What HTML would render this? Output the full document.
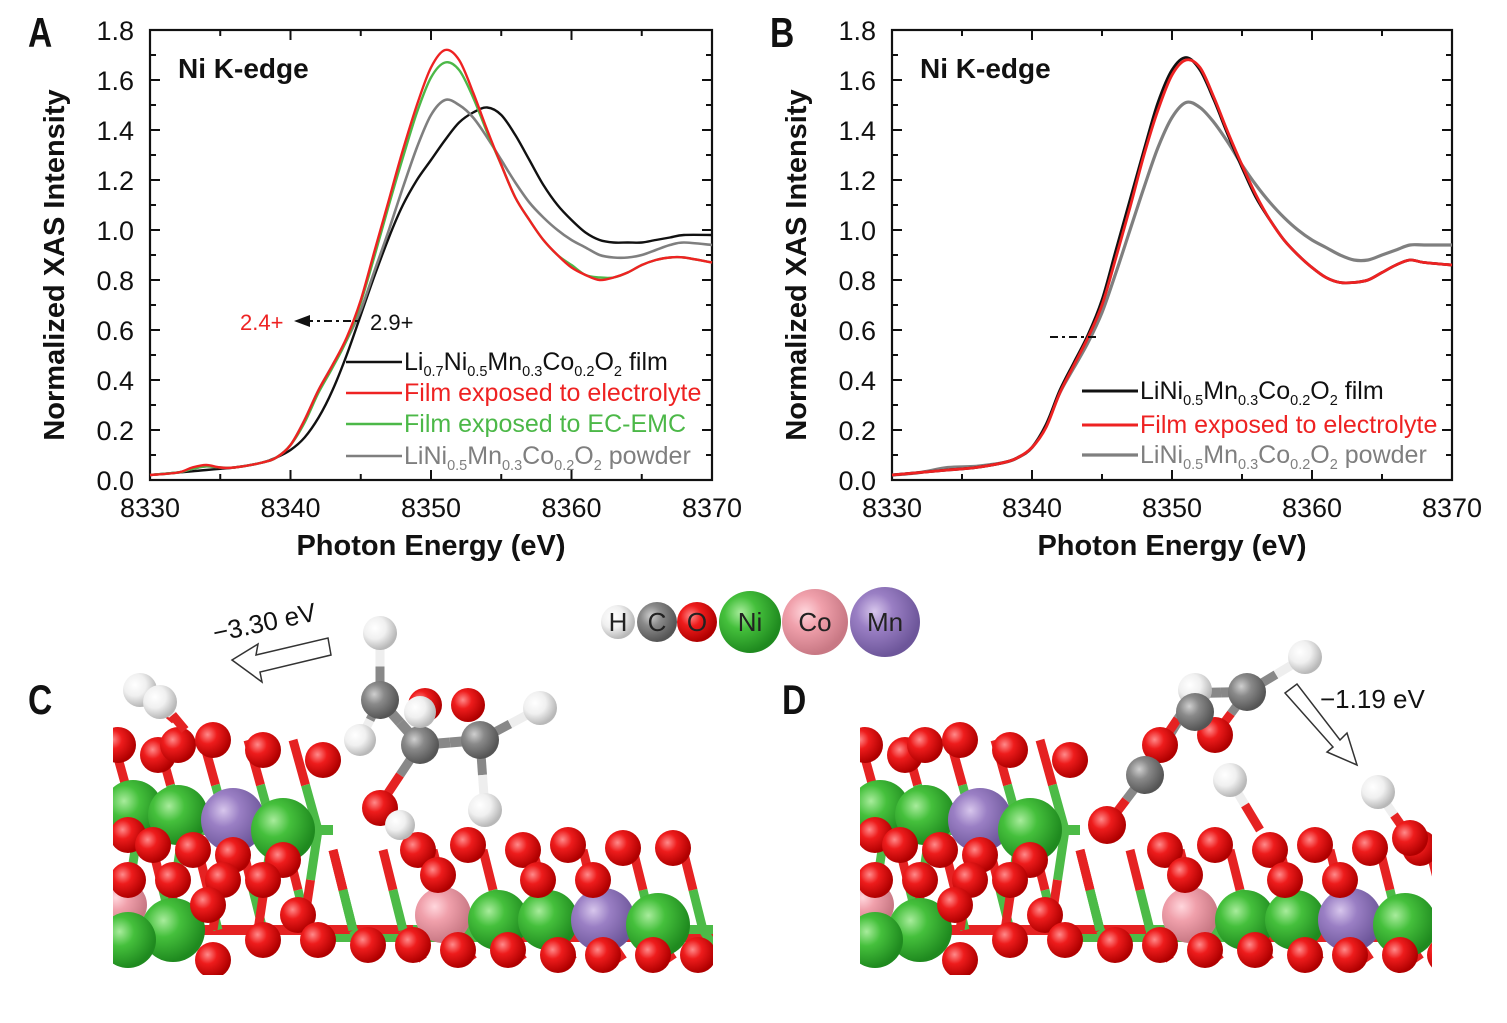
<!DOCTYPE html>
<html><head><meta charset="utf-8">
<style>
body{margin:0;background:#fff;}
svg{display:block;font-family:"Liberation Sans",Arial,sans-serif;}
</style></head>
<body>
<svg id="fig" width="1507" height="1023" viewBox="0 0 1507 1023" xmlns="http://www.w3.org/2000/svg">
<defs>
<radialGradient id="gRed" cx="35%" cy="35%" r="65%"><stop offset="0" stop-color="#ff8a8a"/><stop offset="0.4" stop-color="#ee1c1c"/><stop offset="1" stop-color="#b00000"/></radialGradient>
<radialGradient id="gGreen" cx="35%" cy="35%" r="65%"><stop offset="0" stop-color="#a8ec9c"/><stop offset="0.4" stop-color="#45c03c"/><stop offset="1" stop-color="#1f8a1f"/></radialGradient>
<radialGradient id="gPink" cx="35%" cy="35%" r="65%"><stop offset="0" stop-color="#ffd6dc"/><stop offset="0.4" stop-color="#f0a0ab"/><stop offset="1" stop-color="#c87884"/></radialGradient>
<radialGradient id="gPurple" cx="35%" cy="35%" r="65%"><stop offset="0" stop-color="#d7c6ec"/><stop offset="0.4" stop-color="#9a7fc4"/><stop offset="1" stop-color="#6d569a"/></radialGradient>
<radialGradient id="gGray" cx="35%" cy="35%" r="65%"><stop offset="0" stop-color="#cfcfcf"/><stop offset="0.4" stop-color="#8a8a8a"/><stop offset="1" stop-color="#555"/></radialGradient>
<radialGradient id="gWhite" cx="35%" cy="35%" r="65%"><stop offset="0" stop-color="#fff"/><stop offset="0.5" stop-color="#f0f0f0"/><stop offset="1" stop-color="#b8b8b8"/></radialGradient>
</defs>
<g id="chartA"></g>
<g id="chartB"></g>
<g id="mol"></g>
</svg>
<script>
const NS="http://www.w3.org/2000/svg";
// ---- data ----
const energyA=[8330,8332,8333,8334,8335,8336,8338,8339,8340,8341,8342,8343,8344,8345,8346,8347,8348,8349,8350,8351,8352,8353,8354,8355,8356,8357,8358,8359,8360,8361,8362,8363,8364,8365,8366,8367,8368,8370];
const aBlack=[0.02,0.03,0.035,0.04,0.045,0.05,0.07,0.09,0.12,0.17,0.25,0.36,0.50,0.66,0.82,0.97,1.10,1.20,1.28,1.36,1.43,1.47,1.49,1.46,1.38,1.28,1.18,1.10,1.04,0.99,0.96,0.95,0.95,0.95,0.96,0.97,0.98,0.98];
const aRed=[0.02,0.03,0.05,0.06,0.05,0.05,0.07,0.09,0.14,0.24,0.36,0.46,0.57,0.72,0.92,1.12,1.32,1.50,1.65,1.72,1.68,1.55,1.40,1.26,1.13,1.04,0.96,0.90,0.85,0.82,0.80,0.81,0.83,0.86,0.88,0.89,0.89,0.87];
const aGreen=[0.02,0.03,0.045,0.055,0.05,0.05,0.07,0.09,0.14,0.23,0.35,0.45,0.56,0.71,0.90,1.10,1.29,1.47,1.61,1.67,1.64,1.53,1.39,1.26,1.13,1.04,0.96,0.90,0.86,0.82,0.81,0.81,0.83,0.86,0.88,0.89,0.89,0.87];
const aGray=[0.02,0.03,0.045,0.055,0.05,0.05,0.07,0.09,0.14,0.24,0.36,0.46,0.56,0.68,0.84,1.00,1.17,1.33,1.46,1.52,1.50,1.45,1.37,1.28,1.19,1.11,1.05,1.00,0.96,0.93,0.90,0.89,0.89,0.90,0.92,0.94,0.95,0.94];
const energyB=[8330,8332,8334,8336,8338,8339,8340,8341,8342,8343,8344,8345,8346,8347,8348,8349,8350,8351,8352,8353,8354,8355,8356,8357,8358,8359,8360,8361,8362,8363,8364,8365,8366,8367,8368,8370];
const bBlack=[0.02,0.03,0.04,0.05,0.07,0.09,0.13,0.22,0.36,0.47,0.58,0.72,0.92,1.12,1.32,1.51,1.64,1.69,1.64,1.52,1.38,1.25,1.13,1.04,0.96,0.90,0.85,0.81,0.79,0.79,0.80,0.83,0.86,0.88,0.87,0.86];
const bRed=[0.02,0.03,0.04,0.05,0.07,0.09,0.13,0.21,0.35,0.46,0.57,0.70,0.89,1.09,1.30,1.48,1.62,1.68,1.65,1.53,1.39,1.26,1.14,1.04,0.96,0.90,0.85,0.81,0.79,0.79,0.80,0.83,0.86,0.88,0.87,0.86];
const bGray=[0.02,0.03,0.05,0.055,0.07,0.09,0.13,0.22,0.35,0.45,0.55,0.67,0.83,1.00,1.17,1.33,1.45,1.51,1.49,1.43,1.35,1.26,1.18,1.11,1.05,1.00,0.96,0.93,0.90,0.88,0.88,0.90,0.92,0.94,0.94,0.94];
const xTicks=[8330,8340,8350,8360,8370];
const yTicks=[0.0,0.2,0.4,0.6,0.8,1.0,1.2,1.4,1.6,1.8];

function el(tag,attrs,parent,text){const e=document.createElementNS(NS,tag);for(const k in attrs)e.setAttribute(k,attrs[k]);if(text!==undefined)e.textContent=text;parent.appendChild(e);return e;}
function smooth(pts){let d='M'+pts[0][0].toFixed(1)+','+pts[0][1].toFixed(1);
 for(let i=0;i<pts.length-1;i++){const p0=pts[i-1]||pts[i],p1=pts[i],p2=pts[i+1],p3=pts[i+2]||p2;
  const c1=[p1[0]+(p2[0]-p0[0])/6,p1[1]+(p2[1]-p0[1])/6],c2=[p2[0]-(p3[0]-p1[0])/6,p2[1]-(p3[1]-p1[1])/6];
  d+=` C${c1[0].toFixed(1)},${c1[1].toFixed(1)} ${c2[0].toFixed(1)},${c2[1].toFixed(1)} ${p2[0].toFixed(1)},${p2[1].toFixed(1)}`;}
 return d;}

function drawPanel(g,x0,x1,letter,series,energy){
  const y0=480,y1=30;
  const sx=v=>x0+(v-8330)/40*(x1-x0);
  const sy=v=>y0-(v/1.8)*(y0-y1);
  const frame=el('rect',{x:x0,y:y1,width:x1-x0,height:y0-y1,fill:'none',stroke:'#111','stroke-width':2.2},g);
  
  for(let e=8330;e<=8370;e+=5){const X=sx(e);const L=(e%10===0)?10:6;
    el('line',{x1:X,y1:y0,x2:X,y2:y0-L,stroke:'#111','stroke-width':2},g);
    el('line',{x1:X,y1:y1,x2:X,y2:y1+L,stroke:'#111','stroke-width':2},g);}
  for(let v=0;v<=1.8001;v+=0.1){const Y=sy(v);const L=(Math.round(v*10)%2===0)?10:6;
    el('line',{x1:x0,y1:Y,x2:x0+L,y2:Y,stroke:'#111','stroke-width':2},g);
    el('line',{x1:x1,y1:Y,x2:x1-L,y2:Y,stroke:'#111','stroke-width':2},g);}
  xTicks.forEach(t=>{const tx=el('text',{x:sx(t),y:y0+37,'font-size':27,'text-anchor':'middle',fill:'#111'},g,String(t));
    });
  yTicks.forEach(t=>{const tx=el('text',{x:x0-16,y:sy(t)+10,'font-size':27,'text-anchor':'end',fill:'#111'},g,t.toFixed(1));
    });
  const xt=el('text',{x:(x0+x1)/2,y:555,'font-size':29,'font-weight':'bold','text-anchor':'middle',fill:'#111'},g,'Photon Energy (eV)');
  
  const yt=el('text',{x:0,y:0,'font-size':29,'font-weight':'bold','text-anchor':'middle',fill:'#111',transform:`translate(${x0-86},265) rotate(-90)`},g,'Normalized XAS Intensity');
  
  const pl=el('text',{x:(x0-122)/0.8,y:47,'font-size':42,'font-weight':'bold',fill:'#111','transform':`scale(0.8,1)`},g,letter);
  
  const tt=el('text',{x:x0+28,y:78,'font-size':28,'font-weight':'bold',fill:'#111'},g,'Ni K-edge');
  
  series.forEach(s=>{
    const d=smooth(energy.map((e,i)=>[sx(e),sy(s.v[i])]));
    const p=el('path',{d:d,fill:'none',stroke:s.c,'stroke-width':s.w,'stroke-linejoin':'round'},g);
    
  });
}
const gA=document.getElementById('chartA'),gB=document.getElementById('chartB');
drawPanel(gA,150,712,'A',[
 {v:aBlack,c:'#111',w:2.4,n:'series-li07-film'},
 {v:aGray,c:'#7f7f7f',w:2.6,n:'series-powder'},
 {v:aGreen,c:'#4cb848',w:2.4,n:'series-ec-emc'},
 {v:aRed,c:'#ee2222',w:2.4,n:'series-electrolyte'}],energyA);
drawPanel(gB,892,1452,'B',[
 {v:bGray,c:'#7f7f7f',w:3.2,n:'series-powder'},
 {v:bBlack,c:'#111',w:2.8,n:'series-film'},
 {v:bRed,c:'#ee2222',w:2.8,n:'series-electrolyte'}],energyB);

function legendRow(g,x,y,color,parts,fs,lw){
  el('line',{x1:x,y1:y-8,x2:x+56,y2:y-8,stroke:color,'stroke-width':lw},g);
  const t=el('text',{x:x+58,y:y,'font-size':fs,fill:color},g);
  parts.forEach(p=>{el('tspan',p[1]?{'font-size':fs*0.58,dy:6}:{dy:p[2]||0},t,p[0]);});
  
}
(function(){const g=el('g',{},gA);
 legendRow(g,346,370,'#111',[['Li'],['0.7',1],['Ni',0,-6],['0.5',1],['Mn',0,-6],['0.3',1],['Co',0,-6],['0.2',1],['O',0,-6],['2',1],[' film',0,-6]],25,2.4);
 legendRow(g,346,401,'#ee2222',[['Film exposed to electrolyte']],25,2.4);
 legendRow(g,346,432,'#4cb848',[['Film exposed to EC-EMC']],25,2.4);
 legendRow(g,346,464,'#7f7f7f',[['LiNi'],['0.5',1],['Mn',0,-6],['0.3',1],['Co',0,-6],['0.2',1],['O',0,-6],['2',1],[' powder',0,-6]],25,2.6);
 el('text',{x:240,y:330,'font-size':22,fill:'#ee2222'},g,'2.4+');
 el('line',{x1:305,y1:321,x2:362,y2:321,stroke:'#111','stroke-width':2,'stroke-dasharray':'8,4,3,4'},g);
 el('polygon',{points:'294,321 310,315 310,327',fill:'#111'},g);
 el('text',{x:370,y:330,'font-size':22,fill:'#111'},g,'2.9+');
})();
(function(){const g=el('g',{},gB);
 legendRow(g,1082,399,'#111',[['LiNi'],['0.5',1],['Mn',0,-6],['0.3',1],['Co',0,-6],['0.2',1],['O',0,-6],['2',1],[' film',0,-6]],25,3);
 legendRow(g,1082,433,'#ee2222',[['Film exposed to electrolyte']],25,3);
 legendRow(g,1082,463,'#7f7f7f',[['LiNi'],['0.5',1],['Mn',0,-6],['0.3',1],['Co',0,-6],['0.2',1],['O',0,-6],['2',1],[' powder',0,-6]],25,3.2);
 el('line',{x1:1050,y1:337,x2:1097,y2:337,stroke:'#111','stroke-width':2,'stroke-dasharray':'8,4,3,4'},g);
})();

// ---- molecular panels ----
const gM=document.getElementById('mol');
const fills={H:'url(#gWhite)',C:'url(#gGray)',O:'url(#gRed)',Ni:'url(#gGreen)',Co:'url(#gPink)',Mn:'url(#gPurple)'};
function atom(g,x,y,r,t){const c=el('circle',{cx:x,cy:y,r:r,fill:fills[t]},g);return c;}
function bond(g,x1,y1,x2,y2,c1,c2,w){const mx=(x1+x2)/2,my=(y1+y2)/2;
 el('line',{x1:x1,y1:y1,x2:mx,y2:my,stroke:c1,'stroke-width':w||9},g);el('line',{x1:mx,y1:my,x2:x2,y2:y2,stroke:c2,'stroke-width':w||9},g);}
const RED='#e52222',GRN='#4cbb47',GRY='#888',WHT='#eee';
(function(){const g=el('g',{},gM);
 [[618,622,17,'H'],[657,622,20,'C'],[697,622,20,'O'],[750,622,31,'Ni'],[815,622,33,'Co'],[885,622,35,'Mn']].forEach(a=>{
  atom(g,a[0],a[1],a[2],a[3]);el('text',{x:a[0],y:a[1]+9,'font-size':26,'text-anchor':'middle',fill:'#222'},g,a[3]);});
})();
function slab(g,ox,w){
 const cid='clip'+ox;const cp=el('clipPath',{id:cid},g);el('rect',{x:ox,y:660,width:w,height:315},cp);
 const s=el('g',{'clip-path':`url(#${cid})`},g);
 for(let i=0;i<4;i++){const x=ox+20+i*50;bond(s,x,830,x+50,830,GRN,GRN,10);bond(s,x,930,x+50,930,GRN,GRN,10);}
 bond(s,ox,930,ox+w,930,RED,GRN,10);bond(s,ox+200,938,ox+w,938,GRN,RED,8);
 for(let i=0;i<5;i++){const x=ox+i*45;bond(s,x,740,x+25,830,RED,GRN,9);bond(s,x+25,830,x+10,930,GRN,RED,9);bond(s,x+40,850,x+60,930,RED,GRN,9);}
 atom(s,ox+10,905,24,'Co');atom(s,ox+20,810,30,'Ni');atom(s,ox+65,815,30,'Ni');atom(s,ox+120,820,32,'Mn');atom(s,ox+170,830,32,'Ni');
 atom(s,ox+60,930,32,'Ni');atom(s,ox+15,940,28,'Ni');
 [[5,745],[45,755],[65,745],[100,740],[150,750],[210,760],[15,835],[40,845],[80,850],[120,855],[170,860],[15,880],[60,880],[110,880],[150,880],[185,915],[95,905],[100,960],[150,940]].forEach(p=>atom(s,ox+p[0],p[1],18,'O'));
 for(let i=0;i<8;i++){const x=ox+220+i*50;bond(s,x,850,x+20,930,RED,GRN,9);bond(s,x+20,930,x+40,960,GRN,RED,9);}
 atom(s,ox+330,915,28,'Co');atom(s,ox+385,920,30,'Ni');atom(s,ox+435,920,30,'Ni');atom(s,ox+490,920,32,'Mn');atom(s,ox+545,925,32,'Ni');
 [[305,850],[355,845],[410,850],[455,845],[510,848],[560,848],[205,940],[255,945],[300,945],[345,950],[395,950],[445,955],[490,955],[540,955],[585,955],[325,875],[425,880],[480,880]].forEach(p=>atom(s,ox+p[0],p[1],18,'O'));
 return s;
}
(function(){const g=el('g',{},gM);
 el('text',{x:28/0.8,y:714,'font-size':42,'font-weight':'bold',fill:'#111',transform:'scale(0.8,1)'},g,'C');
 slab(g,113,600);
 bond(g,140,690,175,720,WHT,RED,9);bond(g,160,700,185,730,WHT,RED,9);
 atom(g,140,690,17,'H');atom(g,160,702,17,'H');
 bond(g,380,633,380,700,WHT,GRY,9);bond(g,380,700,420,745,GRY,GRY,10);bond(g,420,745,480,740,GRY,GRY,10);bond(g,480,740,540,708,GRY,WHT,9);
 bond(g,420,745,380,805,GRY,RED,9);bond(g,480,740,485,810,GRY,WHT,9);bond(g,380,700,360,740,GRY,WHT,9);
 atom(g,425,705,17,'O');atom(g,468,705,17,'O');
 atom(g,380,633,17,'H');atom(g,380,700,19,'C');atom(g,360,740,16,'H');atom(g,420,745,19,'C');atom(g,420,712,16,'H');
 atom(g,480,740,19,'C');atom(g,540,708,17,'H');atom(g,380,808,18,'O');atom(g,400,825,15,'H');atom(g,485,810,17,'H');
 el('polygon',{points:'232,660 258,644 256,655 328,638 331,655 260,672 262,682',fill:'#fff',stroke:'#333','stroke-width':1.5},g);
 el('text',{x:0,y:0,'font-size':26,fill:'#111',transform:'translate(215,642) rotate(-12)'},g,'−3.30 eV');
})();
(function(){const g=el('g',{},gM);
 el('text',{x:782/0.8,y:714,'font-size':42,'font-weight':'bold',fill:'#111',transform:'scale(0.8,1)'},g,'D');
 slab(g,860,572);
 bond(g,1195,693,1247,692,GRY,GRY,10);bond(g,1247,692,1305,657,GRY,WHT,9);bond(g,1195,693,1145,775,GRY,GRY,10);
 bond(g,1195,693,1160,745,GRY,RED,9);bond(g,1247,692,1215,735,GRY,RED,9);bond(g,1145,775,1107,825,GRY,RED,9);
 bond(g,1230,780,1260,830,WHT,RED,9);bond(g,1378,792,1410,838,WHT,RED,9);
 atom(g,1195,690,17,'H');atom(g,1160,745,18,'O');atom(g,1215,735,18,'O');atom(g,1195,712,19,'C');atom(g,1247,692,19,'C');
 atom(g,1305,657,17,'H');atom(g,1145,775,19,'C');atom(g,1107,825,19,'O');atom(g,1230,780,17,'H');atom(g,1378,792,17,'H');atom(g,1410,838,18,'O');
 el('polygon',{points:'1285,693 1297,684 1340,740 1347,733 1357,765 1327,752 1333,747',fill:'#fff',stroke:'#333','stroke-width':1.5},g);
 el('text',{x:1320,y:708,'font-size':26,fill:'#111'},g,'−1.19 eV');
})();
</script>
</body></html>
